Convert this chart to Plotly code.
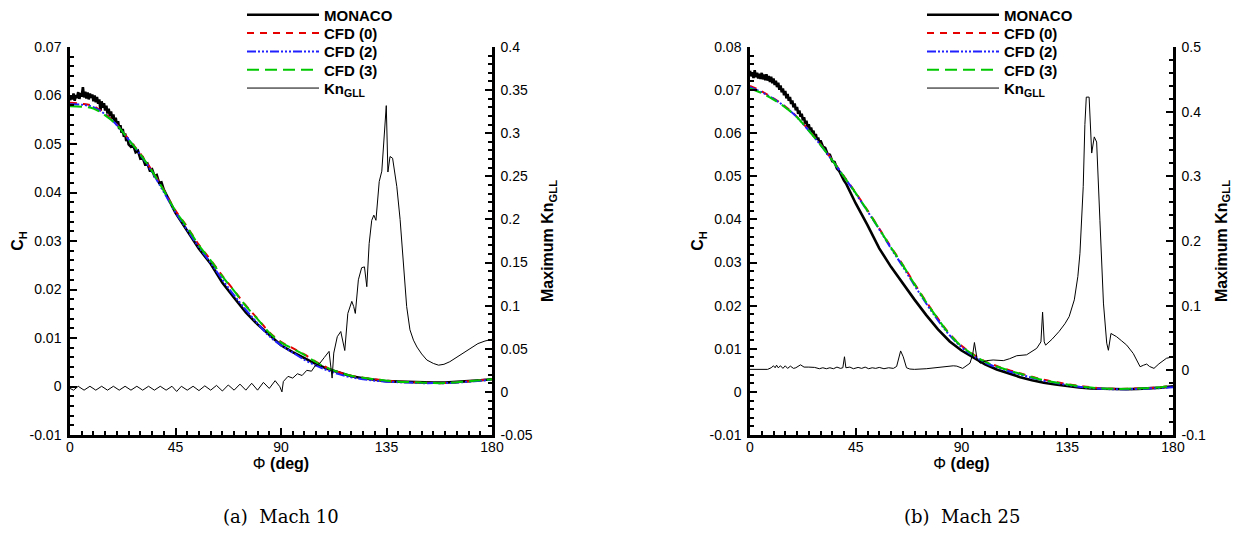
import plotly.graph_objects as go

# ---------------- Mach 10 data ----------------
phi_m10_monaco = [0, 0.5, 1, 1.5, 2, 2.5, 3, 3.5, 4, 4.5, 5, 5.5, 6, 6.5, 7, 7.5, 8, 8.5, 9, 9.5,
                  10, 10.5, 11, 11.5, 12, 12.5, 13, 13.5, 14, 14.5, 15, 15.5, 16, 16.5, 17, 17.5,
                  18, 18.5, 19, 19.5, 20, 20.5, 21, 21.5, 22, 22.5, 23, 23.5, 24, 24.5, 25,
                  26, 27, 28, 29, 30, 31, 32, 33, 34, 35, 36, 37, 38, 39, 40,
                  45, 50, 55, 60, 65, 70, 75, 80, 85, 90, 95, 100, 105, 110, 115, 120, 125, 130,
                  135, 140, 145, 150, 155, 160, 165, 170, 175, 180]
ch_m10_monaco = [0.0590, 0.0600, 0.0592, 0.0604, 0.0589, 0.0601, 0.0595, 0.0607, 0.0593, 0.0605,
                 0.0598, 0.0617, 0.0596, 0.0608, 0.0594, 0.0606, 0.0592, 0.0604, 0.0595, 0.0602,
                 0.0588, 0.0600, 0.0586, 0.0597, 0.0583, 0.0592, 0.0569, 0.0588, 0.0575, 0.0584,
                 0.0569, 0.0579, 0.0563, 0.0573, 0.0558, 0.0567, 0.0552, 0.0561, 0.0546, 0.0554,
                 0.0539, 0.0547, 0.0531, 0.0539, 0.0523, 0.0531, 0.0515, 0.0522, 0.0506, 0.0513,
                 0.0499,
                 0.0494, 0.0497, 0.0483, 0.0486, 0.0470, 0.0472, 0.0458, 0.0460, 0.0446, 0.0448,
                 0.0434, 0.0436, 0.0420, 0.0421, 0.0406,
                 0.0358, 0.0322, 0.0284, 0.0253, 0.0214, 0.0183, 0.0153, 0.0128, 0.0106, 0.0085,
                 0.0071, 0.0058, 0.0046, 0.0036, 0.0028, 0.0021, 0.0017, 0.0014, 0.0011, 0.0010,
                 0.0009, 0.0008, 0.0008, 0.0008, 0.0009, 0.0011, 0.0013, 0.0015]

phi_cfd = [0, 5, 10, 15, 20, 25, 30, 35, 40, 45, 50, 55, 60, 65, 70, 75, 80, 85, 90, 95, 100,
           105, 110, 115, 120, 125, 130, 135, 140, 145, 150, 155, 160, 165, 170, 175, 180]
ch_m10_cfd0 = [0.0585, 0.0583, 0.0578, 0.0562, 0.0540, 0.0510, 0.0480, 0.0445, 0.0405, 0.0363,
               0.0329, 0.0292, 0.0261, 0.0228, 0.0198, 0.0167, 0.0140, 0.0112, 0.0092, 0.0079,
               0.0066, 0.0051, 0.0038, 0.0029, 0.0022, 0.0018, 0.0015, 0.0012, 0.0010, 0.0009,
               0.0008, 0.0007, 0.0007, 0.0009, 0.0011, 0.0013, 0.0015]
ch_m10_cfd2 = [0.0582, 0.0581, 0.0576, 0.0561, 0.0539, 0.0509, 0.0478, 0.0442, 0.0401, 0.0359,
               0.0323, 0.0287, 0.0255, 0.0220, 0.0188, 0.0158, 0.0130, 0.0104, 0.0085, 0.0070,
               0.0055, 0.0043, 0.0033, 0.0025, 0.0019, 0.0015, 0.0012, 0.0010, 0.0009, 0.0008,
               0.0007, 0.0007, 0.0007, 0.0008, 0.0010, 0.0012, 0.0014]
ch_m10_cfd3 = [0.0578, 0.0577, 0.0573, 0.0559, 0.0539, 0.0509, 0.0479, 0.0444, 0.0404, 0.0362,
               0.0328, 0.0291, 0.0260, 0.0227, 0.0197, 0.0166, 0.0139, 0.0111, 0.0091, 0.0078,
               0.0065, 0.0050, 0.0038, 0.0029, 0.0022, 0.0018, 0.0015, 0.0012, 0.0010, 0.0009,
               0.0008, 0.0007, 0.0007, 0.0009, 0.0011, 0.0013, 0.0015]

phi_m10_kn = [0, 1.5, 3.5, 6, 8.5, 11, 13.5, 16, 18.5, 21, 23.5, 26, 28.5, 31, 33.5, 36, 38.5, 41,
              43.5, 45.5, 47.5, 50, 52.5, 55, 57.5, 60, 62.5, 65, 67.5, 70, 72.5, 75, 77.5, 80,
              82.5, 85, 87.5, 89.5, 90.4, 91, 93, 95, 97, 99, 101, 103, 104.5, 106.5, 108.5,
              110.5, 111.8, 112.5, 114, 115.5, 117.2, 118.5, 120.2, 121, 121.7, 123, 124.4,
              125.6, 126.6, 127.6, 128.7, 129.6, 130.5, 131.9, 133, 133.6, 134.3, 134.9, 135.6,
              136.5, 137.6, 138.5, 139.4, 140.8, 142.2, 143.6, 145, 146.5, 148, 150, 152.2, 155,
              157.2, 159.5, 162, 165, 168, 171, 174, 177, 180]
kn_m10 = [0.004, 0.002, 0.0065, 0.002, 0.0065, 0.002, 0.0065, 0.002, 0.0065, 0.002, 0.0065,
          0.002, 0.0065, 0.002, 0.0065, 0.002, 0.0065, 0.002, 0.0065, 0.0005, 0.0065, 0.002,
          0.0065, 0.0015, 0.007, 0.002, 0.0075, 0.001, 0.008, 0.002, 0.009, 0.002, 0.010, 0.002,
          0.011, 0.004, 0.013, 0.006, 0.0, 0.012, 0.018, 0.016, 0.021, 0.019, 0.025, 0.024,
          0.030, 0.033, 0.040, 0.047, 0.016, 0.045, 0.064, 0.070, 0.048, 0.091, 0.105, 0.099,
          0.091, 0.130, 0.144, 0.145, 0.122, 0.172, 0.199, 0.205, 0.199, 0.244, 0.256, 0.277,
          0.300, 0.332, 0.255, 0.273, 0.271, 0.255, 0.238, 0.200, 0.153, 0.099, 0.072, 0.060,
          0.052, 0.044, 0.037, 0.033, 0.031, 0.032, 0.035, 0.040, 0.045, 0.051, 0.056, 0.059,
          0.061]

# ---------------- Mach 25 data ----------------
phi_m25_monaco = [0, 0.5, 1, 1.5, 2, 2.5, 3, 3.5, 4, 4.5, 5, 5.5, 6, 6.5, 7, 7.5, 8, 8.5, 9, 9.5,
                  10, 10.5, 11, 11.5, 12, 12.5, 13, 13.5, 14, 14.5, 15, 15.5, 16, 16.5, 17, 17.5,
                  18, 18.5, 19, 19.5, 20, 20.5, 21, 21.5, 22, 22.5, 23, 23.5, 24, 24.5, 25, 25.5,
                  26, 26.5, 27, 27.5, 28, 28.5, 29, 29.5, 30,
                  31, 32, 33, 34, 35, 36, 37, 38, 39, 40, 41, 42, 43, 44, 45,
                  50, 55, 60, 65, 70, 75, 80, 85, 90, 95, 100, 105, 110, 115,
                  120, 125, 130, 135, 140, 145, 150, 155, 160, 165, 170, 175, 180]
ch_m25_monaco = [0.0745, 0.0732, 0.0741, 0.0728, 0.0746, 0.0730, 0.0740, 0.0727, 0.0738, 0.0726,
                 0.0740, 0.0725, 0.0736, 0.0723, 0.0737, 0.0722, 0.0733, 0.0719, 0.0731, 0.0716,
                 0.0727, 0.0712, 0.0722, 0.0707, 0.0717, 0.0701, 0.0711, 0.0695, 0.0704, 0.0688,
                 0.0698, 0.0681, 0.0691, 0.0675, 0.0684, 0.0668, 0.0676, 0.0660, 0.0669, 0.0653,
                 0.0661, 0.0645, 0.0653, 0.0638, 0.0645, 0.0630, 0.0637, 0.0622, 0.0629, 0.0614,
                 0.0621, 0.0607, 0.0613, 0.0600, 0.0606, 0.0592, 0.0598, 0.0585, 0.0590, 0.0578,
                 0.0583,
                 0.0569, 0.0566, 0.0552, 0.0550, 0.0535, 0.0533, 0.0518, 0.0512, 0.0500, 0.0490,
                 0.0482, 0.0470, 0.0460, 0.0446, 0.0437,
                 0.0387, 0.0333, 0.0290, 0.0251, 0.0214, 0.0178, 0.0145, 0.0117, 0.0096, 0.0080,
                 0.0064, 0.0052, 0.0043, 0.0034,
                 0.0027, 0.0021, 0.0017, 0.0013, 0.0010, 0.0008, 0.0007, 0.0006, 0.0006, 0.0007,
                 0.0008, 0.0010, 0.0013]
ch_m25_cfd0 = [0.0710, 0.0697, 0.0681, 0.0662, 0.0638, 0.0607, 0.0574, 0.0538, 0.0500, 0.0462,
               0.0421, 0.0379, 0.0336, 0.0295, 0.0251, 0.0209, 0.0170, 0.0134, 0.0107, 0.0087,
               0.0071, 0.0060, 0.0051, 0.0043, 0.0035, 0.0028, 0.0023, 0.0018, 0.0014, 0.0011,
               0.0008, 0.0007, 0.0007, 0.0008, 0.0009, 0.0011, 0.0014]
ch_m25_cfd2 = [0.0707, 0.0695, 0.0680, 0.0661, 0.0637, 0.0606, 0.0573, 0.0537, 0.0499, 0.0460,
               0.0419, 0.0377, 0.0333, 0.0291, 0.0247, 0.0205, 0.0166, 0.0131, 0.0104, 0.0084,
               0.0068, 0.0057, 0.0048, 0.0040, 0.0033, 0.0026, 0.0021, 0.0016, 0.0012, 0.0009,
               0.0007, 0.0006, 0.0006, 0.0007, 0.0008, 0.0009, 0.0011]
ch_m25_cfd3 = [0.0704, 0.0693, 0.0678, 0.0660, 0.0637, 0.0606, 0.0573, 0.0537, 0.0499, 0.0461,
               0.0420, 0.0378, 0.0335, 0.0294, 0.0250, 0.0208, 0.0169, 0.0133, 0.0106, 0.0086,
               0.0070, 0.0059, 0.0050, 0.0042, 0.0034, 0.0027, 0.0022, 0.0017, 0.0013, 0.0010,
               0.0008, 0.0007, 0.0007, 0.0008, 0.0009, 0.0011, 0.0014]

phi_m25_kn = [0, 7.5, 9, 10, 10.7, 11.3, 12, 13, 14, 15, 16, 17.2, 18.5, 19.5, 21.5, 23, 25,
              27.5, 29.5, 31, 32.5, 34, 35.5, 37, 38.5, 39.5, 40.2, 40.8, 42.5, 44, 46, 47.5,
              49, 50.5, 52, 53.5, 55, 57, 59, 61, 62.4, 63.1, 64.1, 65.2, 66.6, 68, 70, 75, 80,
              84, 86.5, 88, 90.5, 93.6, 94.8, 95.5, 96.2, 96.7, 97.9, 100.7, 103.5, 107.8,
              110.5, 113.5, 117.7, 122, 123.8, 124.5, 125.2, 125.8, 128.5, 131.5, 134, 135.8,
              138, 139.5, 140.4, 141.2, 141.8, 142.5, 143.1, 144.3, 145.4, 146.5, 147.5, 148.9,
              150.4, 151.8, 152.5, 153.6, 156, 158, 160.3, 163.1, 166, 167.5, 168.8, 170,
              171.9, 174, 177.2, 180]
kn_m25 = [0.0015, 0.0015, 0.004, 0.007, 0.004, 0.008, 0.004, 0.007, 0.003, 0.007, 0.003,
          0.0065, 0.003, 0.004, 0.0085, 0.005, 0.005, 0.0045, 0.0025, 0.004, 0.0025, 0.004,
          0.0025, 0.005, 0.003, 0.004, 0.021, 0.004, 0.005, 0.0025, 0.0045, 0.003, 0.005,
          0.0025, 0.004, 0.003, 0.0045, 0.0025, 0.004, 0.003, 0.006, 0.016, 0.030, 0.021,
          0.004, 0.002, 0.0015, 0.0025, 0.0045, 0.006, 0.007, 0.0065, 0.003, 0.011, 0.025,
          0.043, 0.025, 0.016, 0.011, 0.015, 0.016, 0.015, 0.018, 0.0226, 0.024, 0.034, 0.044,
          0.090, 0.044, 0.039, 0.048, 0.060, 0.072, 0.083, 0.109, 0.145, 0.181, 0.240, 0.284,
          0.380, 0.4225, 0.4225, 0.336, 0.361, 0.353, 0.232, 0.104, 0.042, 0.031, 0.057, 0.052,
          0.046, 0.039, 0.026, 0.0056, 0.008, 0.0097, 0.006, 0.003, 0.010, 0.0186, 0.021]

# ---------------- tick labels ----------------
x_ticks = [0, 45, 90, 135, 180]
x_ticktext = ["0", "45", "90", "135", "180"]
y_m10_ticks = [-0.01, 0, 0.01, 0.02, 0.03, 0.04, 0.05, 0.06, 0.07]
y_m10_ticktext = ["-0.01", "0", "0.01", "0.02", "0.03", "0.04", "0.05", "0.06", "0.07"]
y2_m10_ticks = [-0.05, 0, 0.05, 0.1, 0.15, 0.2, 0.25, 0.3, 0.35, 0.4]
y2_m10_ticktext = ["-0.05", "0", "0.05", "0.1", "0.15", "0.2", "0.25", "0.3", "0.35", "0.4"]
y_m25_ticks = [-0.01, 0, 0.01, 0.02, 0.03, 0.04, 0.05, 0.06, 0.07, 0.08]
y_m25_ticktext = ["-0.01", "0", "0.01", "0.02", "0.03", "0.04", "0.05", "0.06", "0.07", "0.08"]
y2_m25_ticks = [-0.1, 0, 0.1, 0.2, 0.3, 0.4, 0.5]
y2_m25_ticktext = ["-0.1", "0", "0.1", "0.2", "0.3", "0.4", "0.5"]

series_names = ["<b>MONACO</b>", "<b>CFD (0)</b>", "<b>CFD (2)</b>", "<b>CFD (3)</b>",
                "<b>Kn<sub>GLL</sub></b>"]
captions = ["(a)  Mach 10", "(b)  Mach 25"]

# ---------------- styles / layout geometry ----------------
RED = "#e60000"
BLUE = "#2020ff"
GREEN = "#00c800"
FONT = "Liberation Sans, Arial, sans-serif"
OFF = 8                      # the page body margin that the browser adds
W, H = 1252 - OFF, 534 - OFF


def fx(px):                  # page x (px) -> paper x
    return (px - OFF) / W


def fy(py):                  # page y (px, from top) -> paper y
    return 1 - (py - OFF) / H


ROW_Y = [15, 33.3, 51.7, 70, 88.3]          # legend row centres (page px)
LEG_X = [242, 922]                           # legend left edges (page px)

fig = go.Figure()
legend_layouts = {}


def add_panel(panel, xa, ya, ya2, phi_mon, ch_mon, c0, c2, c3, phi_kn, kn):
    specs = [
        (phi_mon, ch_mon, dict(color="black", width=2.6), ya, "linear"),
        (phi_cfd, c0, dict(color=RED, width=2, dash="7px,6px"), ya, "spline"),
        (phi_cfd, c2, dict(color=BLUE, width=2, dash="9px,2px,2px,2px,2px,2px,2px,2px"), ya, "spline"),
        (phi_cfd, c3, dict(color=GREEN, width=2, dash="12px,6px"), ya, "spline"),
        (phi_kn, kn, dict(color="black", width=1), ya2, "linear"),
    ]
    for i, (xs, ys, ln, yax, shape) in enumerate(specs):
        idx = panel * 5 + i + 1
        lname = "legend" if idx == 1 else "legend%d" % idx
        fig.add_trace(go.Scatter(x=xs, y=ys, mode="lines", name=series_names[i], line=ln,
                                 line_shape=shape, xaxis=xa, yaxis=yax, legend=lname))
        legend_layouts[lname] = dict(
            x=fx(LEG_X[panel]), y=fy(ROW_Y[i]), xanchor="left", yanchor="middle",
            font=dict(family=FONT, size=15, color="black"), bgcolor="rgba(0,0,0,0)",
            borderwidth=0, itemwidth=72, itemclick=False, itemdoubleclick=False)


add_panel(0, "x", "y", "y2", phi_m10_monaco, ch_m10_monaco, ch_m10_cfd0, ch_m10_cfd2,
          ch_m10_cfd3, phi_m10_kn, kn_m10)
add_panel(1, "x2", "y3", "y4", phi_m25_monaco, ch_m25_monaco, ch_m25_cfd0, ch_m25_cfd2,
          ch_m25_cfd3, phi_m25_kn, kn_m25)

ydom = [fy(435), fy(47)]
tickfont = dict(family=FONT, size=14, color="black")
titlefont = dict(family=FONT, size=16, color="black")


def xaxis(dom, anchor):
    return dict(domain=dom, anchor=anchor, range=[0, 180], tickmode="array", tickvals=x_ticks,
                ticktext=x_ticktext, ticks="inside", ticklen=7, tickwidth=2, tickcolor="black",
                showline=True, linewidth=2.5, linecolor="black", showgrid=False, zeroline=False,
                tickfont=tickfont, automargin=False, ticklabelstandoff=-3,
                minor=dict(dtick=5, tick0=0, ticks="inside", ticklen=4, tickwidth=1.5,
                           tickcolor="black", showgrid=False),
                title=dict(text="Φ <b>(deg)</b>", font=dict(family=FONT, size=16, color="black"),
                           standoff=0))


def yaxis(rng, tv, tt, mdt, title, side="left", anchor="x", overlay=None, dom=None, standoff=2):
    d = dict(range=rng, tickmode="array", tickvals=tv, ticktext=tt, ticks="inside", ticklen=7,
             tickwidth=2, tickcolor="black", showline=True, linewidth=2.5, linecolor="black",
             showgrid=False, zeroline=False, tickfont=tickfont, side=side, anchor=anchor,
             automargin=False, ticklabelstandoff=3,
             minor=dict(dtick=mdt, tick0=0, ticks="inside", ticklen=4, tickwidth=1.5,
                        tickcolor="black", showgrid=False),
             title=dict(text=title, font=titlefont, standoff=standoff))
    if overlay:
        d["overlaying"] = overlay
    if dom:
        d["domain"] = dom
    return d


fig.update_layout(
    width=W, height=H, margin=dict(l=0, r=0, t=0, b=0, autoexpand=False), paper_bgcolor="white",
    plot_bgcolor="white", showlegend=True,
    xaxis=xaxis([fx(70), fx(492)], "y"),
    yaxis=yaxis([-0.01, 0.07], y_m10_ticks, y_m10_ticktext, 0.002, "<b>C<sub>H</sub></b>",
                dom=ydom),
    yaxis2=yaxis([-0.05, 0.4], y2_m10_ticks, y2_m10_ticktext, 0.01,
                 "<b>Maximum Kn<sub>GLL</sub></b>", side="right", overlay="y", standoff=11),
    xaxis2=xaxis([fx(750), fx(1173)], "y3"),
    yaxis3=yaxis([-0.01, 0.08], y_m25_ticks, y_m25_ticktext, 0.002, "<b>C<sub>H</sub></b>",
                 anchor="x2", dom=ydom),
    yaxis4=yaxis([-0.1, 0.5], y2_m25_ticks, y2_m25_ticktext, 0.02,
                 "<b>Maximum Kn<sub>GLL</sub></b>", side="right", anchor="x2", overlay="y3",
                 standoff=11),
    annotations=[
        dict(text=captions[0], x=fx(281), y=fy(516), xref="paper", yref="paper",
             xanchor="center", yanchor="middle", showarrow=False,
             font=dict(family="DejaVu Serif, serif", size=18, color="black")),
        dict(text=captions[1], x=fx(962), y=fy(516), xref="paper", yref="paper",
             xanchor="center", yanchor="middle", showarrow=False,
             font=dict(family="DejaVu Serif, serif", size=18, color="black")),
    ],
    **legend_layouts,
)

fig.write_html("out.html")
